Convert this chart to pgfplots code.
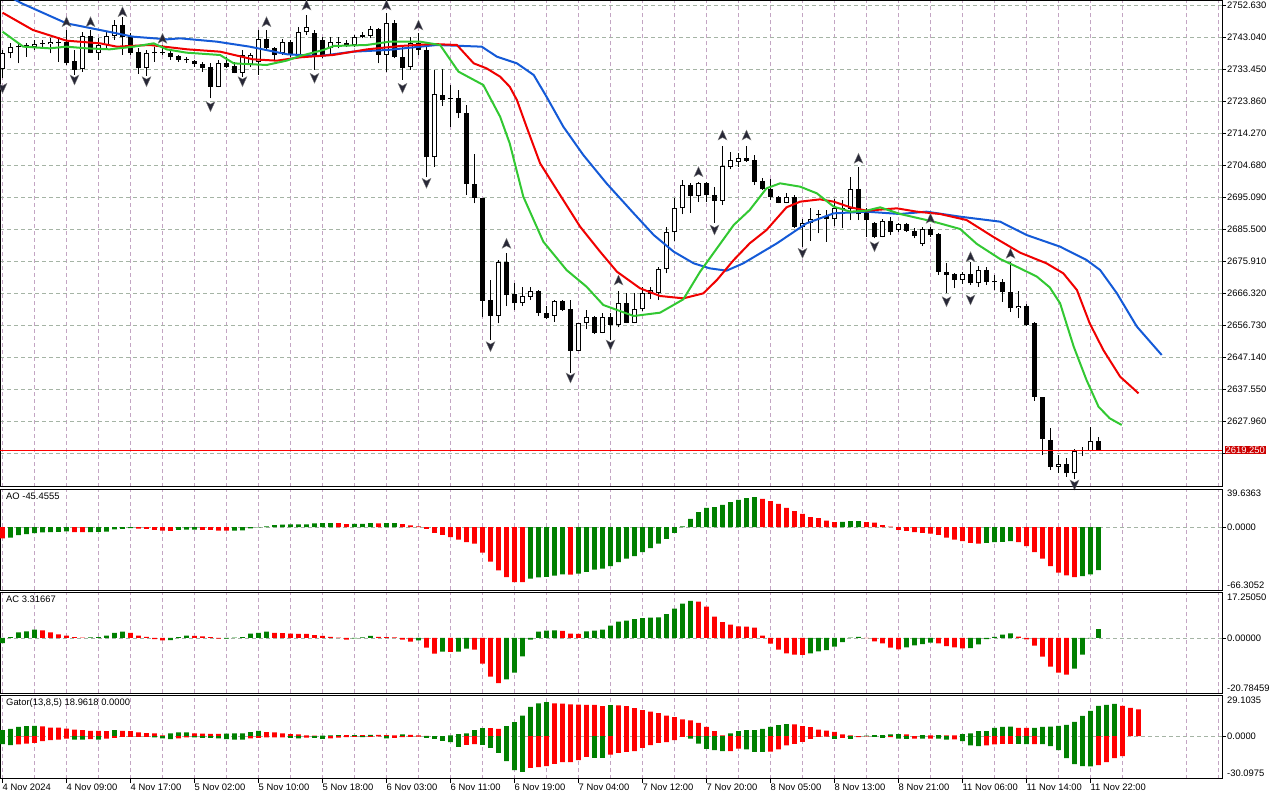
\documentclass[border=0pt]{standalone}
\usepackage{fontspec}
\setmainfont{Liberation Sans}
\usepackage{pgfplots}
\usepackage{pgfplotstable}
\pgfplotsset{compat=1.18}
\definecolor{mtgreen}{RGB}{0,128,0}
\definecolor{mtred}{RGB}{255,0,0}
\definecolor{jaw}{RGB}{20,90,215}
\definecolor{teeth}{RGB}{240,0,0}
\definecolor{lips}{RGB}{50,200,50}
\definecolor{vgrid}{RGB}{195,165,195}
\definecolor{hgrid}{RGB}{165,180,165}
\definecolor{fract}{RGB}{40,40,55}
\definecolor{bidbox}{RGB}{205,0,0}
\newcommand\lbl{\fontsize{9.4}{11}\selectfont}
\pgfdeclareplotmark{fup}{%
 \pgfpathmoveto{\pgfqpoint{0pt}{5pt}}%
 \pgfpathlineto{\pgfqpoint{4.5pt}{-5pt}}%
 \pgfpathlineto{\pgfqpoint{0pt}{-2.5pt}}%
 \pgfpathlineto{\pgfqpoint{-4.5pt}{-5pt}}%
 \pgfpathclose\pgfusepathqfillstroke}
\pgfdeclareplotmark{fdown}{%
 \pgfpathmoveto{\pgfqpoint{0pt}{-5pt}}%
 \pgfpathlineto{\pgfqpoint{4.5pt}{5pt}}%
 \pgfpathlineto{\pgfqpoint{0pt}{2.5pt}}%
 \pgfpathlineto{\pgfqpoint{-4.5pt}{5pt}}%
 \pgfpathclose\pgfusepathqfillstroke}
\pgfplotsset{
 mt/.style={
  scale only axis, width=1222pt,
  xmin=-0.3125, xmax=152.4375,
  axis line style={black, line width=0.9pt},
  xtick={0,8,...,136}, minor xtick={4,12,...,148,152},
  xmajorgrids, xminorgrids, ymajorgrids,
  major x grid style={draw=vgrid, dash pattern=on 4pt off 3pt, line width=0.8pt},
  minor x grid style={draw=vgrid, dash pattern=on 4pt off 3pt, line width=0.8pt},
  major y grid style={draw=hgrid, dash pattern=on 4pt off 3pt, line width=0.8pt},
  ytick pos=right, yticklabel pos=right,
  tick align=outside, major tick length=4pt, minor tick length=0pt,
  tick style={black, line width=0.8pt},
  tick label style={font=\lbl, inner sep=1pt},
  clip mode=individual,
 },
 noxt/.style={xtick style={draw=none}, xticklabels={}},
 hist/.style={ybar, bar width=4.6pt, bar shift=0pt, draw=none},
}
\pgfplotstableread{
x o h l c
0 2733.5 2739.3 2730.9 2738.3
1 2738.3 2741.3 2736.8 2740.3
2 2740.3 2741.8 2735.3 2740.1
3 2740.6 2741.3 2737.3 2740.35
4 2740.3 2742.3 2739.3 2741.0
5 2741.1 2742.3 2740.3 2741.3
6 2741.0 2742.8 2738.3 2741.8
7 2741.6 2742.8 2735.8 2741.4
8 2741.8 2745.3 2734.8 2735.3
9 2736.0 2739.3 2731.8 2733.3
10 2733.5 2744.8 2732.8 2743.5
11 2743.5 2745.3 2738.3 2738.5
12 2738.5 2742.8 2736.3 2740.8
13 2740.8 2744.8 2739.3 2743.5
14 2743.5 2748.3 2742.3 2746.8
15 2746.8 2749.3 2737.8 2743.3
16 2743.5 2744.3 2737.8 2738.5
17 2738.8 2739.8 2732.1 2733.8
18 2733.8 2739.3 2731.5 2738.5
19 2738.3 2740.3 2735.8 2738.5
20 2738.5 2740.8 2737.8 2738.34
21 2738.3 2739.3 2736.3 2737.1
22 2737.5 2737.8 2735.8 2736.3
23 2736.3 2737.3 2735.5 2736.15
24 2736.0 2736.3 2734.3 2735.1
25 2735.1 2735.8 2732.8 2734.0
26 2734.1 2735.3 2724.8 2728.3
27 2728.3 2736.3 2728.1 2735.5
28 2735.5 2737.3 2733.8 2734.3
29 2734.5 2735.8 2732.3 2732.5
30 2732.5 2739.3 2731.3 2737.8
31 2735.1 2738.3 2734.3 2737.8
32 2735.8 2745.3 2731.8 2742.5
33 2742.5 2745.3 2739.3 2739.8
34 2739.8 2740.3 2736.3 2737.8
35 2738.5 2742.5 2737.8 2741.8
36 2741.8 2742.3 2737.3 2737.8
37 2737.8 2746.3 2737.3 2744.6
38 2744.6 2749.8 2743.8 2746.3
39 2744.3 2745.3 2733.3 2737.8
40 2742.3 2743.3 2736.8 2737.8
41 2739.8 2743.3 2737.8 2741.8
42 2741.8 2743.3 2739.8 2741.3
43 2741.5 2742.3 2740.3 2740.8
44 2740.8 2743.8 2740.3 2743.3
45 2743.3 2744.8 2742.8 2743.8
46 2743.5 2746.5 2742.8 2745.5
47 2745.5 2745.8 2735.3 2737.8
48 2737.8 2750.3 2732.8 2747.3
49 2747.3 2748.3 2736.8 2737.3
50 2737.3 2740.3 2730.3 2733.8
51 2734.2 2743.2 2733.3 2741.4
52 2741.4 2744.4 2737.8 2739.3
53 2739.3 2740.8 2701.2 2707.1
54 2707.1 2733.3 2704.3 2726.0
55 2725.7 2733.6 2722.5 2724.3
56 2724.8 2728.8 2716.3 2724.7
57 2724.8 2727.3 2718.9 2720.3
58 2720.3 2722.8 2695.8 2699.1
59 2699.1 2708.1 2693.3 2695.0
60 2695.0 2695.0 2659.1 2664.1
61 2664.3 2670.3 2652.3 2659.6
62 2659.6 2676.3 2657.3 2675.6
63 2675.6 2678.5 2662.5 2665.8
64 2666.0 2669.4 2661.3 2663.3
65 2663.3 2668.3 2662.5 2665.6
66 2665.3 2668.3 2664.3 2667.0
67 2667.0 2667.3 2659.5 2660.5
68 2660.5 2662.5 2658.5 2658.8
69 2659.6 2664.3 2657.8 2664.0
70 2664.0 2664.3 2661.0 2661.3
71 2661.5 2664.3 2642.5 2649.1
72 2649.1 2657.5 2649.0 2657.3
73 2657.3 2661.3 2655.5 2659.1
74 2659.3 2659.5 2654.1 2654.5
75 2654.5 2660.5 2654.3 2659.1
76 2659.3 2660.5 2652.3 2656.8
77 2656.8 2667.1 2656.1 2663.3
78 2663.3 2666.3 2657.3 2657.5
79 2657.5 2666.5 2657.3 2661.5
80 2661.5 2668.3 2661.1 2666.5
81 2666.1 2668.3 2664.5 2667.3
82 2666.3 2674.1 2664.3 2673.6
83 2673.5 2686.3 2672.3 2684.6
84 2684.6 2694.8 2682.1 2691.8
85 2691.8 2700.3 2690.0 2698.8
86 2698.8 2699.3 2690.5 2695.6
87 2695.6 2699.8 2693.8 2699.3
88 2699.3 2699.8 2693.7 2695.8
89 2695.8 2698.3 2687.5 2694.1
90 2694.1 2710.5 2692.8 2704.5
91 2704.3 2708.6 2703.5 2706.3
92 2705.8 2708.3 2704.3 2706.8
93 2706.8 2710.5 2705.8 2706.1
94 2706.3 2707.8 2698.8 2699.8
95 2700.0 2700.8 2697.3 2697.5
96 2697.5 2700.5 2694.3 2695.1
97 2695.1 2695.5 2693.3 2693.5
98 2693.5 2696.3 2693.3 2695.1
99 2695.1 2695.8 2685.8 2686.3
100 2686.1 2688.5 2680.3 2687.3
101 2687.3 2691.8 2682.1 2688.5
102 2689.9 2691.3 2684.3 2689.7
103 2689.5 2691.3 2681.8 2688.5
104 2688.5 2694.5 2686.5 2691.8
105 2691.7 2694.3 2685.8 2691.9
106 2691.5 2701.3 2688.3 2697.5
107 2697.5 2704.3 2688.3 2690.1
108 2691.3 2691.8 2683.3 2688.3
109 2687.5 2687.8 2682.8 2683.1
110 2683.3 2688.5 2683.1 2688.1
111 2688.1 2689.1 2683.8 2684.8
112 2685.3 2687.5 2684.8 2687.0
113 2687.0 2687.3 2684.8 2685.1
114 2685.0 2685.8 2682.8 2683.5
115 2681.1 2686.1 2680.5 2685.5
116 2685.5 2686.1 2683.3 2683.8
117 2684.0 2684.3 2671.8 2672.8
118 2672.8 2675.3 2666.3 2671.8
119 2672.1 2672.3 2667.8 2670.3
120 2670.3 2672.8 2669.1 2672.1
121 2672.1 2675.8 2668.8 2669.3
122 2669.3 2674.5 2668.3 2673.3
123 2673.3 2674.3 2668.8 2669.7
124 2669.8 2671.8 2667.3 2669.6
125 2669.6 2670.5 2663.8 2666.8
126 2666.8 2675.8 2660.8 2661.8
127 2661.8 2667.1 2658.8 2662.5
128 2662.5 2663.1 2656.5 2656.8
129 2657.3 2657.8 2634.1 2635.3
130 2635.3 2635.3 2617.8 2622.5
131 2622.3 2625.8 2613.3 2614.3
132 2614.3 2617.8 2612.5 2615.1
133 2615.1 2616.8 2611.3 2612.3
134 2612.3 2619.5 2610.5 2619.1
135 2619.1 2620.3 2617.5 2619.2
136 2619.1 2626.1 2619.1 2622.0
137 2622.0 2623.1 2619.1 2619.25
}\candles
\begin{document}
\begin{tikzpicture}
\useasboundingbox (0pt,0pt) rectangle (1280pt,-800pt);
% ---------------- main price panel ----------------
\begin{axis}[mt, noxt, at={(0pt,-0.5pt)}, anchor=north west, height=486pt,
  ymin=2608.35, ymax=2754.15,
  ytick={2752.63,2743.04,2733.45,2723.86,2714.27,2704.68,2695.09,2685.5,2675.91,2666.32,2656.73,2647.14,2637.55,2627.96,2618.37},
  yticklabels={2752.630,2743.040,2733.450,2723.860,2714.270,2704.680,2695.090,2685.500,2675.910,2666.320,2656.730,2647.140,2637.550,2627.960,{}}]
 % wicks
 \addplot[draw=none, mark=none, forget plot, error bars/.cd, y dir=plus, y explicit, error mark=none,
   error bar style={draw=black, line width=1pt}]
   table[x=x, y=l, y error plus expr={\thisrow{h}-\thisrow{l}}] {\candles};
 % bodies
 \addplot[draw=none, mark=none, forget plot, error bars/.cd, y dir=plus, y explicit, error mark=none,
   error bar style={draw=black, line width=5pt}]
   table[x=x, y expr={min(\thisrow{o},\thisrow{c})}, y error plus expr={max(abs(\thisrow{c}-\thisrow{o}),0.3)}] {\candles};
 % hollow interior of bullish bodies
 \addplot[draw=none, mark=none, forget plot, error bars/.cd, y dir=plus, y explicit, error mark=none,
   error bar style={draw=white, line width=3pt}]
   table[x=x, y expr={min(\thisrow{o},\thisrow{c})+0.3}, y error plus expr={(\thisrow{c}>\thisrow{o}) ? max(\thisrow{c}-\thisrow{o}-0.6,0) : 0}] {\candles};
 % bid line
 \addplot[mtred, line width=0.9pt] coordinates {(-0.3125,2619.25)(152.4375,2619.25)};
 % Alligator jaw
 \addplot[jaw, line width=2pt] coordinates {(0,2756.4)(2.4,2753.3)(8.0,2747.3)(12.2,2745.3)(16.3,2743.3)(20.6,2742.5)(22.2,2742.8)(26.8,2741.8)(30.9,2740.3)(35.6,2738.0)(39.7,2737.5)(43.8,2738.8)(48.1,2739.3)(52.2,2740.3)(54.3,2740.8)(59.9,2740.3)(61.8,2737.3)(64.3,2735.3)(66.4,2731.8)(68.0,2725.3)(70.1,2716.3)(72.6,2707.8)(75.5,2699.3)(78.9,2690.3)(81.4,2683.8)(83.9,2678.8)(86.4,2675.3)(88.4,2673.8)(90.5,2673.1)(92.6,2675.3)(96.8,2681.3)(100.5,2687.3)(103.9,2690.3)(108.0,2690.8)(112.2,2690.1)(115.5,2690.8)(119.7,2689.3)(124.7,2687.8)(128.0,2683.8)(132.2,2680.3)(135.5,2676.3)(137.2,2673.3)(139.3,2666.3)(141.8,2656.3)(144.9,2647.8)};
 % teeth
 \addplot[teeth, line width=2pt] coordinates {(0,2750.5)(3.8,2745.3)(8.0,2742.1)(12.2,2741.3)(14.3,2740.3)(18.4,2740.8)(23.1,2739.5)(27.2,2738.8)(31.3,2736.5)(34.3,2736.1)(37.2,2737.1)(41.3,2737.8)(45.6,2739.5)(49.7,2740.5)(53.8,2741.1)(56.8,2740.8)(58.9,2735.3)(60.5,2733.8)(62.2,2731.3)(63.4,2728.3)(64.3,2724.3)(65.5,2716.3)(67.2,2705.3)(69.3,2697.3)(72.2,2686.3)(74.7,2678.8)(76.8,2672.8)(79.7,2667.8)(82.2,2665.5)(85.1,2664.8)(87.6,2666.3)(89.3,2670.3)(91.4,2676.3)(93.4,2681.3)(95.5,2685.3)(98.0,2692.1)(99.7,2693.8)(102.2,2694.5)(103.9,2693.8)(106.0,2692.1)(108.0,2691.1)(111.8,2691.8)(114.3,2690.8)(117.2,2690.1)(120.5,2688.3)(123.8,2683.3)(127.2,2678.5)(130.5,2675.3)(132.6,2672.3)(134.3,2667.3)(135.9,2657.3)(137.6,2649.3)(139.7,2641.3)(142.0,2636.3)};
 % lips
 \addplot[lips, line width=2pt] coordinates {(0,2744.8)(2.6,2740.3)(5.9,2739.8)(8.0,2740.3)(10.5,2739.8)(13.4,2739.5)(16.4,2740.3)(18.9,2741.3)(20.5,2739.5)(23.0,2738.5)(27.2,2737.8)(28.9,2735.3)(33.0,2734.8)(35.5,2736.1)(37.2,2737.5)(40.1,2739.3)(41.4,2740.5)(45.5,2740.8)(48.4,2741.8)(52.2,2741.8)(54.7,2740.8)(57.0,2732.8)(60.1,2728.8)(62.2,2719.3)(63.4,2711.3)(65.1,2695.3)(67.6,2681.8)(70.5,2673.3)(73.0,2668.3)(75.1,2662.8)(78.9,2659.5)(82.2,2660.5)(85.1,2664.5)(87.2,2672.8)(89.3,2679.8)(91.4,2686.8)(93.4,2691.3)(95.5,2697.8)(97.2,2699.3)(99.7,2698.3)(101.8,2696.3)(103.9,2692.3)(106.0,2690.8)(108.0,2691.1)(109.7,2692.1)(112.2,2690.1)(116.4,2687.8)(119.7,2685.6)(121.8,2681.1)(124.7,2676.6)(127.2,2673.8)(129.3,2671.3)(130.9,2668.1)(132.2,2663.3)(133.9,2650.3)(135.5,2640.3)(137.0,2632.3)(138.4,2628.8)(139.9,2626.8)};
 % fractals
 \addplot[only marks, mark=fup, mark options={fill=fract, draw=gray, line width=0.3pt}] coordinates {(8,2747.8)(11,2747.8)(15,2750.8)(20,2742.8)(33,2747.8)(38,2752.8)(48,2752.8)(52,2746.8)(63,2681.3)(77,2670.3)(87,2702.8)(90,2713.8)(93,2713.8)(107,2706.8)(116,2688.8)(121,2677.3)(126,2678.3)};
 \addplot[only marks, mark=fdown, mark options={fill=fract, draw=gray, line width=0.3pt}] coordinates {(0,2727.8)(9,2730.3)(18,2729.8)(26,2722.3)(30,2729.8)(39,2730.8)(50,2727.8)(53,2699.3)(61,2650.3)(71,2640.9)(76,2650.8)(89,2685.3)(100,2678.3)(109,2680.3)(118,2663.8)(121,2664.3)(134,2608.8)};
 \node[fill=bidbox, text=white, inner sep=1pt, anchor=west, font=\lbl, xshift=2.5pt] at (axis cs:152.4375,2619.25) {2619.250};
\end{axis}
% ---------------- AO ----------------
\begin{axis}[mt, noxt, at={(0pt,-489.5pt)}, anchor=north west, height=100.5pt,
  ymin=-66.3052, ymax=39.6363, ytick={0}, yticklabels={0.0000}]
 \addplot[hist, fill=mtgreen] coordinates {(1,-11.2)(2,-8.4)(3,-7.5)(4,-6.3)(5,-5.6)(6,-5.3)(7,-5.0)(8,-4.6)(11,-5.2)(12,-5.0)(13,-4.8)(14,-2.5)(15,-1.8)(16,-1.0)(22,-2.9)(23,-2.7)(24,-2.6)(29,-3.7)(30,-3.4)(31,-1.4)(32,-0.3)(33,0.9)(34,2.1)(35,2.6)(36,2.8)(37,2.9)(38,3.0)(39,4.0)(40,4.2)(41,4.3)(44,3.3)(45,3.4)(46,4.2)(48,4.2)(49,4.3)(66,-54.4)(67,-53.0)(68,-52.5)(69,-51.2)(70,-49.8)(72,-49.1)(73,-47.3)(74,-44.9)(75,-43.8)(76,-41.0)(77,-36.8)(78,-33.3)(79,-30.5)(80,-26.3)(81,-22.1)(82,-17.5)(83,-12.3)(84,-6.0)(85,0.7)(86,8.8)(87,15.8)(88,20.3)(89,21.0)(90,23.5)(91,26.3)(92,28.8)(93,30.5)(94,31.6)(105,5.6)(106,6.3)(107,6.4)(123,-16.5)(124,-15.8)(125,-15.7)(126,-14.7)(135,-51.6)(136,-49.8)(137,-45.46)};
 \addplot[hist, fill=mtred] coordinates {(0,-11.9)(9,-5.3)(10,-5.4)(17,-1.6)(18,-1.9)(19,-2.8)(20,-3.7)(21,-3.9)(25,-2.8)(26,-3.0)(27,-3.6)(28,-3.8)(42,4.1)(43,3.2)(47,4.0)(50,3.2)(51,1.8)(52,0.7)(53,-1.8)(54,-6.0)(55,-8.1)(56,-10.5)(57,-13.3)(58,-15.8)(59,-17.5)(60,-27.0)(61,-36.5)(62,-45.6)(63,-52.6)(64,-57.9)(65,-58.0)(71,-50.0)(95,29.8)(96,27.4)(97,24.5)(98,20.3)(99,16.8)(100,14.0)(101,10.5)(102,9.5)(103,6.7)(104,5.3)(108,5.3)(109,4.6)(110,2.1)(111,0.4)(112,-2.8)(113,-3.9)(114,-5.3)(115,-6.0)(116,-7.0)(117,-8.1)(118,-11.2)(119,-13.3)(120,-14.7)(121,-16.5)(122,-17.5)(127,-15.8)(128,-20.0)(129,-26.3)(130,-33.3)(131,-41.0)(132,-48.0)(133,-51.0)(134,-52.6)};
 \node[anchor=north west, inner sep=0pt, font=\lbl, xshift=6pt, yshift=-3.5pt] at (rel axis cs:0,1) {AO -45.4555};
 \node[anchor=north west, inner sep=0pt, font=\lbl, xshift=5pt, yshift=0pt] at (rel axis cs:1,1) {39.6363};
 \node[anchor=south west, inner sep=0pt, font=\lbl, xshift=5pt, yshift=1.5pt] at (rel axis cs:1,0) {-66.3052};
\end{axis}
% ---------------- AC ----------------
\begin{axis}[mt, noxt, at={(0pt,-592pt)}, anchor=north west, height=101.3pt,
  ymin=-20.78459, ymax=17.2505, ytick={0}, yticklabels={0.00000}]
 \addplot[hist, fill=mtgreen] coordinates {(0,-1.9)(1,0.3)(2,2.1)(3,2.5)(4,3.1)(11,0.2)(12,0.3)(13,0.9)(14,1.9)(15,2.4)(21,-0.8)(22,0.3)(23,0.9)(28,-0.25)(29,0.1)(30,0.3)(31,1.6)(32,1.9)(33,2.4)(44,-0.2)(45,0.25)(46,0.75)(52,-0.9)(55,-5.1)(57,-5.1)(58,-4.0)(63,-15.6)(64,-13.0)(65,-6.9)(66,-0.6)(67,2.4)(68,2.75)(69,2.8)(73,2.5)(74,2.75)(75,3.1)(76,4.6)(77,6.1)(78,6.5)(79,7.1)(80,7.4)(81,7.6)(82,7.7)(83,8.9)(84,11.0)(85,12.9)(86,13.9)(101,-5.8)(102,-5.0)(103,-4.6)(104,-3.3)(105,-1.6)(106,0.1)(107,0.4)(113,-3.5)(114,-2.8)(115,-2.3)(116,-1.8)(121,-3.8)(122,-2.4)(123,-0.4)(124,0.4)(125,1.25)(126,1.75)(134,-11.5)(135,-6.3)(136,-0.15)(137,3.32)};
 \addplot[hist, fill=mtred] coordinates {(5,2.8)(6,2.1)(7,1.3)(8,0.9)(9,0.3)(10,0.1)(16,1.9)(17,0.9)(18,0.4)(19,-0.4)(20,-0.9)(24,0.8)(25,0.6)(26,0.3)(27,-0.3)(34,1.9)(35,1.85)(36,1.6)(37,1.55)(38,1.5)(39,1.1)(40,0.75)(41,0.4)(42,0.1)(43,-0.6)(47,0.4)(48,0.35)(49,0.25)(50,-0.6)(51,-1.4)(53,-3.6)(54,-5.9)(56,-5.2)(59,-4.4)(60,-9.6)(61,-14.5)(62,-17.0)(70,2.7)(71,1.6)(72,1.5)(87,13.6)(88,11.8)(89,8.0)(90,5.9)(91,5.0)(92,4.3)(93,4.25)(94,3.9)(95,0.9)(96,-2.1)(97,-4.4)(98,-5.8)(99,-6.3)(100,-6.4)(108,-0.1)(109,-1.3)(110,-2.0)(111,-3.6)(112,-4.3)(117,-2.0)(118,-3.1)(119,-3.5)(120,-3.9)(127,0.5)(128,-0.5)(129,-2.9)(130,-7.0)(131,-10.8)(132,-13.0)(133,-13.8)};
 \node[anchor=north west, inner sep=0pt, font=\lbl, xshift=6pt, yshift=-3.5pt] at (rel axis cs:0,1) {AC 3.31667};
 \node[anchor=north west, inner sep=0pt, font=\lbl, xshift=5pt, yshift=-2pt] at (rel axis cs:1,1) {17.25050};
 \node[anchor=south west, inner sep=0pt, font=\lbl, xshift=5pt, yshift=2pt] at (rel axis cs:1,0) {-20.78459};
\end{axis}
% ---------------- Gator ----------------
\begin{axis}[mt, at={(0pt,-695pt)}, anchor=north west, height=83.7pt,
  ymin=-30.0975, ymax=29.1035, ytick={0}, yticklabels={0.0000},
  xtick pos=bottom,
  xticklabels={4 Nov 2024,4 Nov 09:00,4 Nov 17:00,5 Nov 02:00,5 Nov 10:00,5 Nov 18:00,6 Nov 03:00,6 Nov 11:00,6 Nov 19:00,7 Nov 04:00,7 Nov 12:00,7 Nov 20:00,8 Nov 05:00,8 Nov 13:00,8 Nov 21:00,11 Nov 06:00,11 Nov 14:00,11 Nov 22:00},
  xticklabel style={anchor=north west, xshift=-1pt}]
 \addplot[hist, fill=mtgreen] coordinates {(0,4.2)(1,5.2)(2,6.6)(3,7.1)(4,7.2)(14,4.2)(21,1.9)(22,2.6)(23,2.7)(28,1.8)(29,1.9)(30,2.0)(31,2.8)(32,3.8)(40,0.3)(41,0.6)(42,0.8)(44,0.8)(46,0.9)(50,1.2)(56,0.5)(57,1.5)(58,1.9)(59,4.2)(60,5.7)(63,7.1)(64,9.9)(65,14.6)(66,20.7)(67,23.1)(68,24.0)(76,21.9)(91,1.9)(92,3.5)(93,4.2)(94,4.3)(95,5.2)(96,6.6)(97,7.8)(98,8.5)(108,0.3)(109,0.7)(110,0.8)(111,1.2)(112,1.4)(115,0.7)(117,0.7)(120,1.4)(121,1.9)(122,3.5)(123,3.6)(124,5.9)(125,6.6)(126,6.7)(129,5.9)(130,6.6)(131,6.7)(132,7.3)(133,8.0)(134,10.1)(135,14.4)(136,17.9)(137,21.5)(138,22.2)(139,22.9)};
 \addplot[hist, fill=mtred] coordinates {(5,7.0)(6,6.1)(7,6.0)(8,5.4)(9,4.7)(10,4.2)(11,3.8)(12,3.7)(13,3.6)(15,3.8)(16,3.5)(17,2.6)(18,2.1)(19,1.9)(20,0.5)(24,1.9)(25,1.8)(26,1.7)(27,1.6)(33,2.8)(34,2.7)(35,1.9)(36,1.4)(37,1.3)(38,0.5)(39,0.3)(43,0.7)(45,0.8)(47,0.9)(48,0.7)(49,0.6)(51,0.9)(52,0.6)(53,0.2)(54,0.1)(55,0.1)(61,5.7)(62,5.2)(69,23.1)(70,23.0)(71,22.4)(72,22.3)(73,22.2)(74,22.1)(75,21.2)(77,21.8)(78,21.2)(79,19.8)(80,18.4)(81,17.4)(82,16.3)(83,14.6)(84,13.4)(85,11.8)(86,11.1)(87,9.4)(88,6.6)(89,3.5)(90,0.5)(99,8.4)(100,7.1)(101,6.4)(102,4.7)(103,4.0)(104,3.1)(105,1.2)(106,0.5)(107,0.1)(113,1.3)(114,0.1)(116,0.6)(118,0.6)(119,0.5)(127,5.9)(128,5.8)(140,21.5)(141,20.0)(142,18.96)};
 \addplot[hist, fill=mtgreen] coordinates {(0,-5.7)(1,-6.4)(9,-2.4)(10,-2.4)(12,-2.4)(19,-0.9)(20,-1.6)(21,-2.1)(24,-0.9)(25,-1.2)(26,-1.2)(27,-1.6)(28,-2.1)(29,-2.4)(30,-2.4)(36,-1.2)(37,-1.6)(39,-1.2)(40,-1.9)(45,-0.7)(48,-1.6)(53,-1.2)(54,-2.0)(55,-3.3)(56,-4.2)(57,-7.5)(60,-6.1)(61,-8.3)(62,-11.8)(63,-17.7)(64,-24.0)(65,-25.2)(74,-15.3)(75,-15.4)(86,-1.7)(87,-5.2)(88,-9.0)(89,-9.9)(90,-10.6)(93,-9.4)(94,-11.1)(95,-11.1)(104,-1.9)(106,-1.9)(109,-0.5)(110,-1.2)(112,-1.7)(113,-1.9)(115,-1.7)(117,-1.7)(118,-2.4)(120,-3.5)(121,-6.6)(122,-7.1)(127,-5.4)(128,-5.7)(130,-5.7)(131,-7.1)(132,-9.9)(133,-15.6)(134,-19.8)(135,-21.2)(136,-21.3)};
 \addplot[hist, fill=mtred] coordinates {(2,-5.9)(3,-5.2)(4,-4.7)(5,-3.5)(6,-2.8)(7,-2.4)(8,-1.7)(11,-2.1)(13,-1.7)(14,-1.2)(15,-0.5)(16,-0.5)(17,-0.5)(18,-0.5)(22,-1.6)(23,-0.9)(31,-1.6)(32,-1.2)(33,-0.9)(34,-0.9)(35,-0.9)(38,-1.0)(41,-1.6)(42,-1.0)(43,-0.7)(44,-0.5)(46,-0.5)(47,-0.2)(49,-1.2)(50,-0.7)(51,-0.5)(52,-0.3)(58,-6.1)(59,-5.7)(66,-22.4)(67,-21.9)(68,-21.2)(69,-19.6)(70,-18.4)(71,-18.3)(72,-17.0)(73,-14.6)(76,-13.0)(77,-11.8)(78,-11.1)(79,-10.6)(80,-8.3)(81,-6.4)(82,-4.7)(83,-4.2)(84,-2.8)(85,-0.5)(91,-10.6)(92,-8.9)(96,-11.0)(97,-9.4)(98,-6.6)(99,-5.4)(100,-4.0)(101,-1.9)(102,-0.5)(103,-0.3)(105,-1.2)(107,-0.7)(108,-0.2)(111,-0.7)(114,-1.7)(116,-1.7)(119,-2.3)(123,-6.6)(124,-5.9)(125,-5.4)(126,-5.4)(129,-5.6)(137,-20.5)(138,-18.4)(139,-15.6)(140,-14.1)};
 \node[anchor=north west, inner sep=0pt, font=\lbl, xshift=6pt, yshift=-3.5pt] at (rel axis cs:0,1) {Gator(13,8,5) 18.9618 0.0000};
 \node[anchor=north west, inner sep=0pt, font=\lbl, xshift=5pt, yshift=-2pt] at (rel axis cs:1,1) {29.1035};
 \node[anchor=south west, inner sep=0pt, font=\lbl, xshift=5pt, yshift=1.5pt] at (rel axis cs:1,0) {-30.0975};
\end{axis}
\end{tikzpicture}
\end{document}
